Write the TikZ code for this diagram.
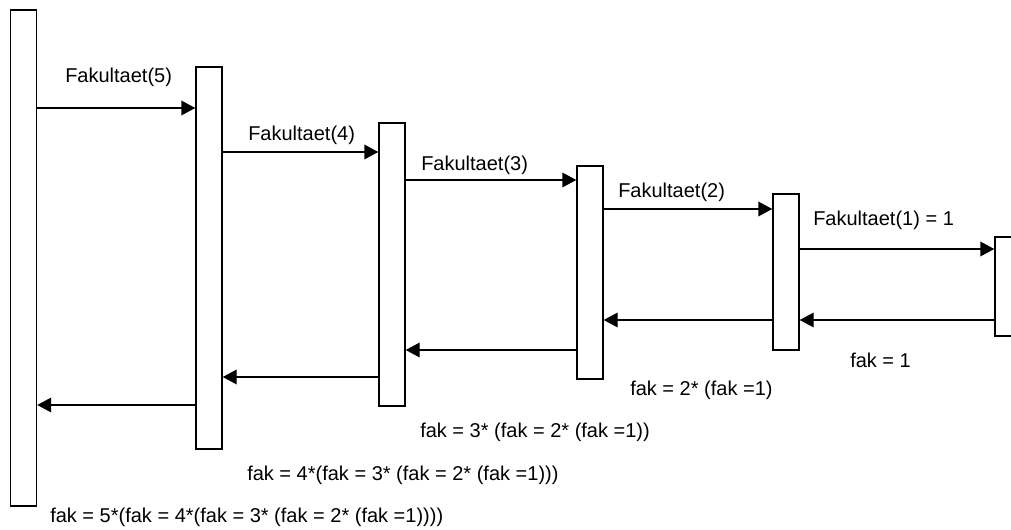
\documentclass[tikz,border=0pt]{standalone}
\usepackage{fontspec}
\setmainfont{Liberation Sans}
\usetikzlibrary{arrows.meta}
\tikzset{
  lifebox/.style={draw=black, line width=1.1pt, fill=white, rectangle, inner sep=0pt, minimum width=26*0.75pt},
  msg/.style={draw=black, line width=1.1pt, -{Triangle[length=10.5pt,width=11pt]}},
  lbl/.style={anchor=base west, inner sep=0pt, font=\fontsize{15}{17}\selectfont}
}
\begin{document}
\begin{tikzpicture}[x=0.75pt,y=-0.75pt]
\useasboundingbox (0,0) rectangle (1011,530);
\clip (0,0) rectangle (1011,530);
% lifeline boxes
\node[lifebox, minimum height=496*0.75pt] (b1) at (23.5,258) {};
\node[lifebox, minimum height=382*0.75pt] (b2) at (209,258) {};
\node[lifebox, minimum height=283*0.75pt] (b3) at (392,264.5) {};
\node[lifebox, minimum height=213*0.75pt] (b4) at (590,272.5) {};
\node[lifebox, minimum height=156*0.75pt] (b5) at (786,272) {};
\node[lifebox, minimum width=40*0.75pt, minimum height=99*0.75pt] (b6) at (1015,286.5) {};
% calls
\draw[msg] (b1.east |- 0,108) -- (b2.west |- 0,108);
\draw[msg] (b2.east |- 0,152) -- (b3.west |- 0,152);
\draw[msg] (b3.east |- 0,180) -- (b4.west |- 0,180);
\draw[msg] (b4.east |- 0,209) -- (b5.west |- 0,209);
\draw[msg] (b5.east |- 0,249) -- (b6.west |- 0,249);
% returns
\draw[msg] (b6.west |- 0,320) -- (b5.east |- 0,320);
\draw[msg] (b5.west |- 0,320) -- (b4.east |- 0,320);
\draw[msg] (b4.west |- 0,350) -- (b3.east |- 0,350);
\draw[msg] (b3.west |- 0,377) -- (b2.east |- 0,377);
\draw[msg] (b2.west |- 0,405) -- (b1.east |- 0,405);
% labels
\node[lbl] (l1) at (65,82.5) {Fakultaet(5)};
\node[lbl] (l2) at (248,140.5) {Fakultaet(4)};
\node[lbl] (l3) at (421,170.5) {Fakultaet(3)};
\node[lbl] (l4) at (618,197.5) {Fakultaet(2)};
\node[lbl] (l5) at (813,225.5) {Fakultaet(1) = 1};
\node[lbl] (r1) at (850,367.5) {fak = 1};
\node[lbl] (r2) at (630,395.5) {fak = 2* (fak =1)};
\node[lbl] (r3) at (420,438) {fak = 3* (fak = 2* (fak =1))};
\node[lbl] (r4) at (247,480.5) {fak = 4*(fak = 3* (fak = 2* (fak =1)))};
\node[lbl] (r5) at (50,522.5) {fak = 5*(fak = 4*(fak = 3* (fak = 2* (fak =1))))};
\end{tikzpicture}
\end{document}
